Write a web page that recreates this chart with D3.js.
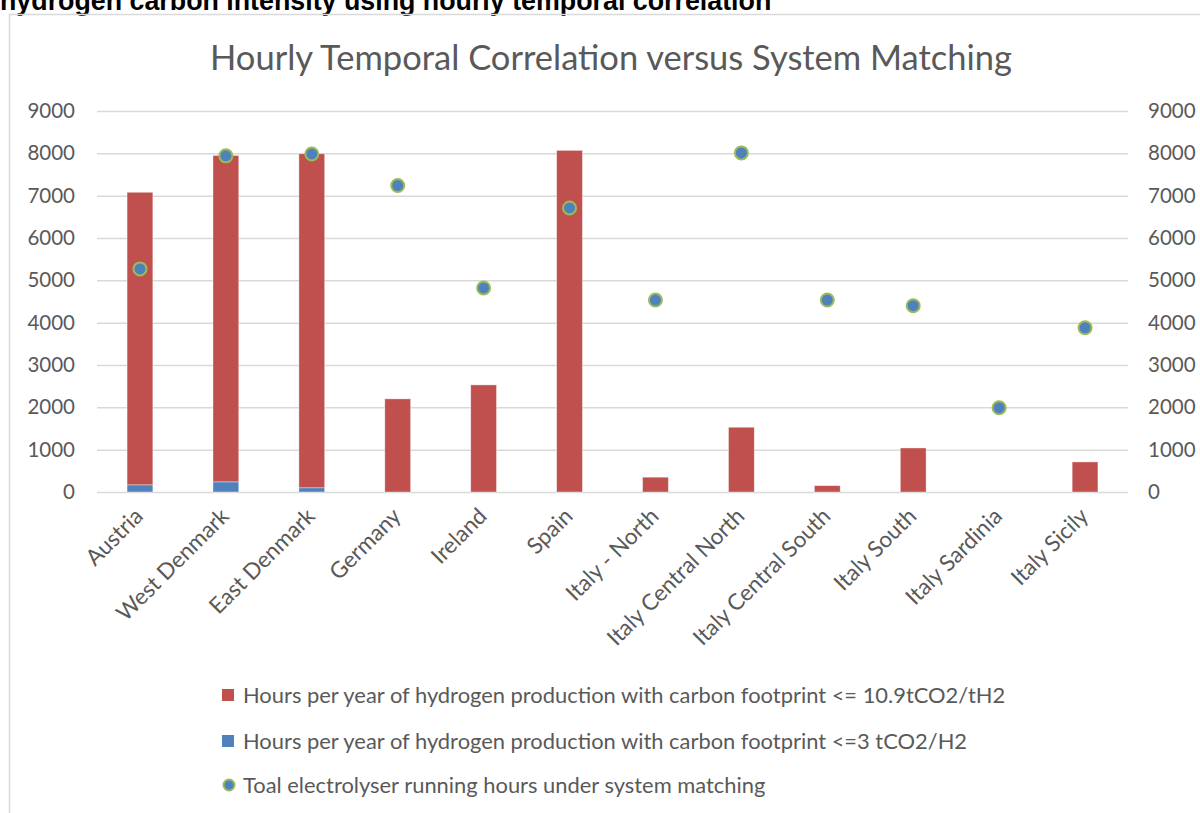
<!DOCTYPE html>
<html>
<head>
<meta charset="utf-8">
<script src="https://cdn.jsdelivr.net/npm/d3@7"></script>
<style>
  body { margin: 0; background: #fff; }
  svg { display: block; }
</style>
</head>
<body>
<div id="chart"></div>
<script>
// chart data
var regions = ["Austria", "West Denmark", "East Denmark", "Germany", "Ireland", "Spain",
  "Italy - North", "Italy Central North", "Italy Central South", "Italy South",
  "Italy Sardinia", "Italy Sicily"];
var hoursLow = [170, 240, 100, 0, 0, 0, 0, 0, 0, 0, 0, 0];            // <=3 tCO2/H2 (blue)
var hoursHigh = [6910, 7710, 7890, 2200, 2530, 8070, 350, 1530, 150, 1040, 0, 710]; // <=10.9 (red)
var systemHours = [5270, 7940, 7985, 7240, 4820, 6710, 4535, 8010, 4535, 4400, 1990, 3880];
var yTicks = [0, 1000, 2000, 3000, 4000, 5000, 6000, 7000, 8000, 9000];

var legendLabels = [
  "Hours per year of hydrogen production with carbon footprint <= 10.9tCO2/tH2",
  "Hours per year of hydrogen production with carbon footprint <=3 tCO2/H2",
  "Toal electrolyser running hours under system matching"
];

var red = "#C0504D", blue = "#4F81BD", green = "#9BBB59", textCol = "#595959", grid = "#D9D9D9";
var font = "Lato, 'Open Sans', sans-serif";

var svgWidth = 1200, svgHeight = 813;
var plot = { left: 97, right: 1128, top: 111, bottom: 492 };

var svg = d3.select("#chart")
    .append("svg")
    .attr("width", svgWidth)
    .attr("height", svgHeight);

// bit of the page heading that sits above the chart box (cut at the top, as in the source)
svg.append("text")
    .attr("x", 0)
    .attr("y", 10)
    .attr("font-family", "'Liberation Sans', Arial, sans-serif")
    .attr("font-weight", "bold")
    .attr("font-size", "26.8px")
    .attr("fill", "#000")
    .text("hydrogen carbon intensity using hourly temporal correlation");

// chart border
svg.append("path")
    .attr("d", "M9.5,813 V14.5 H1200")
    .attr("fill", "none")
    .attr("stroke", grid)
    .attr("stroke-width", 1.5);

// scales
var x = d3.scaleBand()
    .domain(regions)
    .range([plot.left, plot.right])
    .paddingInner(0.7)
    .paddingOuter(0.35);

var y = d3.scaleLinear()
    .domain([0, 9000])
    .range([plot.bottom, plot.top]);

// gridlines
svg.append("g")
    .attr("transform", `translate(${plot.left},0)`)
    .call(d3.axisLeft(y).tickValues(yTicks).tickSize(-(plot.right - plot.left)).tickFormat(""))
    .call(g => g.select(".domain").remove())
    .call(g => g.selectAll("line").attr("stroke", grid).attr("stroke-width", 1.5));

// left and right axes
var leftAxis = d3.axisLeft(y).tickValues(yTicks).tickSize(0).tickPadding(22).tickFormat(d3.format("d"));
var rightAxis = d3.axisRight(y).tickValues(yTicks).tickSize(0).tickPadding(20).tickFormat(d3.format("d"));

svg.append("g")
    .attr("transform", `translate(${plot.left},0)`)
    .call(leftAxis)
    .call(g => g.select(".domain").remove())
    .call(g => g.selectAll("text").attr("fill", textCol).attr("font-family", font).attr("font-size", "20.5px"));

svg.append("g")
    .attr("transform", `translate(${plot.right},0)`)
    .call(rightAxis)
    .call(g => g.select(".domain").remove())
    .call(g => g.selectAll("text").attr("fill", textCol).attr("font-family", font).attr("font-size", "20.5px"));

// stacked bars: blue at the bottom, red on top
var rows = regions.map(function(r, i) {
  return { region: r, low: hoursLow[i], high: hoursHigh[i] };
});
var stacked = d3.stack().keys(["low", "high"])(rows);
var colors = { low: blue, high: red };

svg.append("g")
    .selectAll("g")
    .data(stacked)
    .enter()
    .append("g")
    .attr("fill", d => colors[d.key])
    .selectAll("rect")
    .data(d => d)
    .enter()
    .filter(d => d[1] > d[0])
    .append("rect")
    .attr("x", d => x(d.data.region))
    .attr("y", d => y(d[1]))
    .attr("width", x.bandwidth())
    .attr("height", d => y(d[0]) - y(d[1]))
    .attr("stroke", "#fff")
    .attr("stroke-opacity", 0.5)
    .attr("stroke-width", 0.75);

// system matching dots
svg.append("g")
    .selectAll("circle")
    .data(systemHours)
    .enter()
    .append("circle")
    .attr("cx", (d, i) => x(regions[i]) + x.bandwidth() / 2)
    .attr("cy", d => y(d))
    .attr("r", 6.5)
    .attr("fill", blue)
    .attr("stroke", green)
    .attr("stroke-width", 2);

// category labels, rotated
svg.append("g")
    .selectAll("text")
    .data(regions)
    .enter()
    .append("text")
    .attr("transform", d => `translate(${x(d) + x.bandwidth() / 2 - 1},${plot.bottom + 20}) rotate(-45)`)
    .attr("text-anchor", "end")
    .attr("dy", "0.35em")
    .attr("fill", textCol)
    .attr("font-family", font)
    .attr("font-size", "22.5px")
    .text(d => d);

// title
svg.append("text")
    .attr("x", 611)
    .attr("y", 70)
    .attr("text-anchor", "middle")
    .attr("fill", textCol)
    .attr("font-family", font)
    .attr("font-size", "34.5px")
    .text("Hourly Temporal Correlation versus System Matching");

// legend
var legendY = [695, 741, 785];
var legend = svg.append("g");

legend.selectAll("rect")
    .data([red, blue])
    .enter()
    .append("rect")
    .attr("x", 222)
    .attr("y", (d, i) => legendY[i] - 6)
    .attr("width", 12)
    .attr("height", 12)
    .attr("fill", d => d);

legend.append("circle")
    .attr("cx", 229)
    .attr("cy", legendY[2])
    .attr("r", 5.5)
    .attr("fill", blue)
    .attr("stroke", green)
    .attr("stroke-width", 2);

legend.selectAll("text")
    .data(legendLabels)
    .enter()
    .append("text")
    .attr("x", 243)
    .attr("y", (d, i) => legendY[i])
    .attr("dy", "0.35em")
    .attr("fill", textCol)
    .attr("font-family", font)
    .attr("font-size", "21.9px")
    .text(d => d);
</script>
</body>
</html>
